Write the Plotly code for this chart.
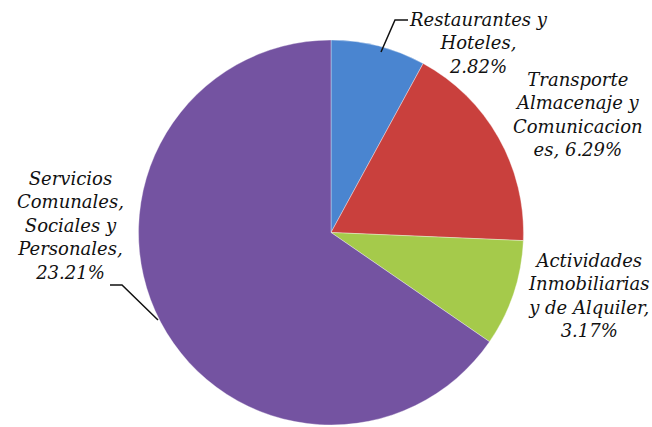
import plotly.graph_objects as go

# Sector shares (percent)
sectors = [
    "Restaurantes y Hoteles",
    "Transporte Almacenaje y Comunicaciones",
    "Actividades Inmobiliarias y de Alquiler",
    "Servicios Comunales, Sociales y Personales",
]
shares = [2.82, 6.29, 3.17, 23.21]
# Wrapped label text; "{v}" is filled with the sector's share
label_lines = [
    ["Restaurantes y", "Hoteles,", "{v}"],
    ["Transporte", "Almacenaje y", "Comunicacion", "es, {v}"],
    ["Actividades", "Inmobiliarias", "y de Alquiler,", "{v}"],
    ["Servicios", "Comunales,", "Sociales y", "Personales,", "{v}"],
]
colors = ["#4a85d0", "#c9403d", "#a5ca4b", "#7453a1"]

W, H = 652, 427


def px(x):
    return x / W


def py(y):
    return 1 - y / H


fig = go.Figure(
    go.Pie(
        labels=sectors,
        values=shares,
        sort=False,
        direction="clockwise",
        rotation=0,
        textinfo="none",
        hoverinfo="label+value",
        marker=dict(colors=colors, line=dict(color="rgba(255,255,255,0.35)", width=1)),
        domain=dict(x=[px(138), px(524)], y=[py(425), py(40)]),
        showlegend=False,
    )
)

# Label placement (pixel centres) for each sector's text block
label_pos = [(478, 43), (578, 114), (588, 295), (70, 225)]
font = dict(family="DejaVu Serif", style="italic", size=18, color="#111111")
for lines, val, (cx, cy) in zip(label_lines, shares, label_pos):
    text = "<br>".join(l.replace("{v}", f"{val:.2f}%") for l in lines)
    fig.add_annotation(
        x=px(cx), y=py(cy), xref="paper", yref="paper",
        text=text, showarrow=False, font=font,
        xanchor="center", yanchor="middle", align="center",
    )

# Leader lines
leaders = [
    [(381, 52), (395, 20), (408, 20)],
    [(110, 285), (122, 285), (158, 320)],
]
for pts in leaders:
    path = "M " + " L ".join(f"{px(x)},{py(y)}" for x, y in pts)
    fig.add_shape(type="path", path=path, xref="paper", yref="paper",
                  line=dict(color="#111111", width=1.5))

fig.update_layout(
    width=W, height=H,
    margin=dict(l=0, r=0, t=0, b=0),
    paper_bgcolor="white", plot_bgcolor="white",
)

fig.write_html("out.html")
